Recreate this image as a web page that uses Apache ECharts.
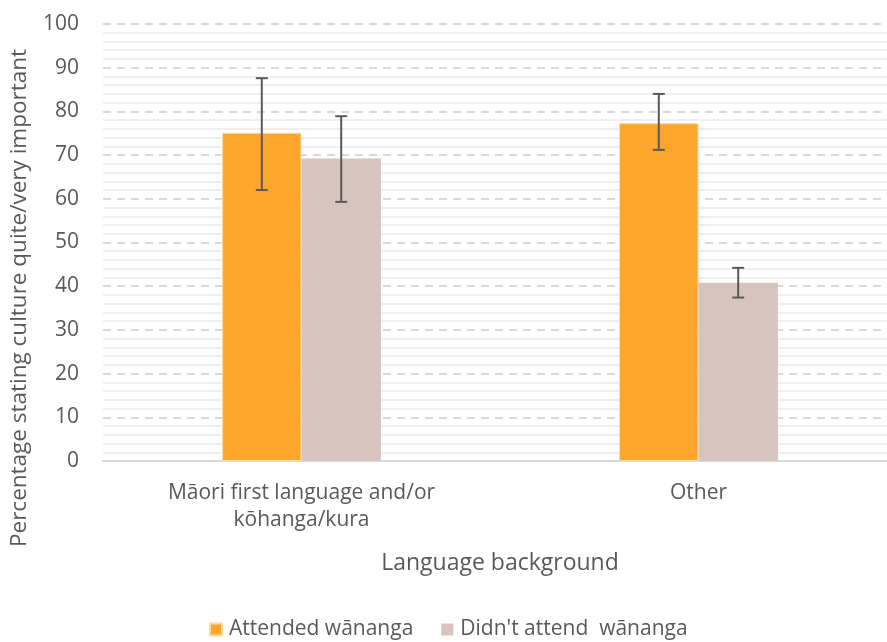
<!DOCTYPE html>
<html>
<head>
<meta charset="utf-8">
<script src="https://cdn.jsdelivr.net/npm/echarts@6/dist/echarts.min.js"></script>
<style>
  html, body { margin: 0; padding: 0; background: #fff; }
  #chart { width: 887px; height: 642px; }
</style>
</head>
<body>
<div id="chart"></div>
<script>
var categories = ["Māori first language and/or\nkōhanga/kura", "Other"];
var seriesNames = ["Attended wānanga", "Didn't attend  wānanga"];
var attended = [75.1, 77.3];
var attendedLow = [62.0, 71.2];
var attendedHigh = [87.6, 84.0];
var notAttended = [69.2, 40.8];
var notAttendedLow = [59.3, 37.4];
var notAttendedHigh = [78.9, 44.2];
var yTicks = [0, 10, 20, 30, 40, 50, 60, 70, 80, 90, 100];

var font = "Open Sans";
var textColor = "#595959";

function errorSeries(low, high, offset) {
  var data = categories.map(function (c, i) { return [i, low[i], high[i]]; });
  return {
    type: "custom",
    z: 10,
    silent: true,
    data: data,
    renderItem: function (params, api) {
      var idx = api.value(0);
      var lo = api.coord([idx, api.value(1)]);
      var hi = api.coord([idx, api.value(2)]);
      var band = api.size([1, 0])[0];
      var x = lo[0] + band * offset;
      var cap = 6;
      var style = { stroke: "#595959", lineWidth: 2 };
      return {
        type: "group",
        children: [
          { type: "line", shape: { x1: x, y1: hi[1], x2: x, y2: lo[1] }, style: style },
          { type: "line", shape: { x1: x - cap, y1: hi[1], x2: x + cap, y2: hi[1] }, style: style },
          { type: "line", shape: { x1: x - cap, y1: lo[1], x2: x + cap, y2: lo[1] }, style: style }
        ]
      };
    }
  };
}

var chart = echarts.init(document.getElementById("chart"));
var option = {
  animation: false,
  textStyle: { fontFamily: font },
  grid: { left: 103, width: 794, top: 24, bottom: 181, outerBoundsMode: "none", containLabel: false },
  graphic: [{
    type: "text",
    rotation: Math.PI / 2,
    x: 20, y: 298,
    style: {
      text: "Percentage stating culture quite/very important",
      font: "22.5px 'Open Sans'",
      fill: textColor,
      align: "center",
      verticalAlign: "middle"
    }
  }],
  legend: {
    bottom: -3,
    left: 204,
    itemWidth: 12,
    itemHeight: 12,
    itemGap: 28,
    icon: "rect",
    data: seriesNames,
    textStyle: { fontFamily: font, fontSize: 21, color: textColor, padding: [0, 0, 0, 2] }
  },
  xAxis: {
    type: "category",
    data: categories,
    name: "Language background",
    nameLocation: "middle",
    nameGap: 91,
    nameTextStyle: { fontFamily: font, fontSize: 23, color: textColor },
    axisLine: { lineStyle: { color: "#d9d9d9", width: 2 } },
    axisTick: { show: false },
    axisLabel: { fontFamily: font, fontSize: 21, color: textColor, lineHeight: 27, margin: 19 }
  },
  yAxis: {
    type: "value",
    min: yTicks[0],
    max: yTicks[yTicks.length - 1],
    interval: 10,
    axisLine: { show: false },
    axisTick: { show: false },
    axisLabel: { fontFamily: font, fontSize: 21, color: textColor, margin: 24 },
    splitLine: { show: true, lineStyle: { color: "#d9d9d9", type: [8, 6], width: 2 } },
    minorTick: { show: false, splitNumber: 5 },
    minorSplitLine: { show: true, lineStyle: { color: "#efefef", width: 2 } }
  },
  series: [
    {
      name: seriesNames[0],
      type: "bar",
      data: attended,
      barWidth: "20%",
      barGap: "0%",
      itemStyle: { color: "#fca72c", borderColor: "#fdd9a6", borderWidth: 1 }
    },
    {
      name: seriesNames[1],
      type: "bar",
      data: notAttended,
      barWidth: "20%",
      itemStyle: { color: "#d5c5be" }
    },
    errorSeries(attendedLow, attendedHigh, -0.1),
    errorSeries(notAttendedLow, notAttendedHigh, 0.1)
  ]
};
chart.setOption(option);
</script>
</body>
</html>
